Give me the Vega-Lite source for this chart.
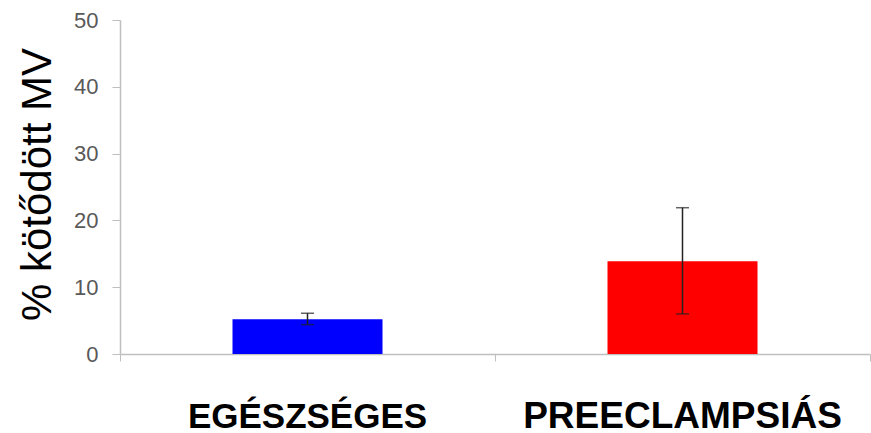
{
  "$schema": "https://vega.github.io/schema/vega-lite/v6.json",
  "width": 750,
  "height": 334,
  "autosize": {"type": "none"},
  "padding": {"left": 120, "top": 20, "right": 1, "bottom": 79},
  "background": "white",
  "config": {"view": {"stroke": null}},
  "data": {
    "values": [
      {"group": "EGÉSZSÉGES", "value": 5.2, "low": 4.4, "high": 6.1, "color": "#0000FF"},
      {"group": "PREECLAMPSIÁS", "value": 13.9, "low": 6.0, "high": 21.9, "color": "#FF0000"}
    ]
  },
  "resolve": {"axis": {"x": "independent"}},
  "layer": [
    {
      "mark": {"type": "bar", "width": {"band": 0.4}},
      "encoding": {
        "x": {
          "field": "group",
          "type": "nominal",
          "sort": null,
          "scale": {"paddingInner": 0, "paddingOuter": 0},
          "axis": {
            "orient": "bottom",
            "title": null,
            "labels": false,
            "tickBand": "extent",
            "tickSize": 7,
            "tickColor": "#BFBFBF",
            "domainColor": "#BFBFBF",
            "domainWidth": 1.5
          }
        },
        "y": {
          "field": "value",
          "type": "quantitative",
          "scale": {"domain": [0, 50]},
          "axis": {
            "title": "% kötődött MV",
            "titleFont": "Liberation Sans",
            "titleFontSize": 42,
            "titleFontWeight": "normal",
            "titleColor": "#000000",
            "titleAngle": -90,
            "titleBaseline": "alphabetic",
            "titleAlign": "center",
            "titleX": -70,
            "titleY": 164,
            "values": [0, 10, 20, 30, 40, 50],
            "grid": false,
            "labelFont": "Liberation Sans",
            "labelFontSize": 22,
            "labelColor": "#595959",
            "labelPadding": 14,
            "tickSize": 8,
            "tickColor": "#BFBFBF",
            "domainColor": "#BFBFBF",
            "domainWidth": 1.5
          }
        },
        "color": {"field": "color", "type": "nominal", "scale": null}
      }
    },
    {
      "mark": {"type": "rule", "color": "#222222", "strokeWidth": 1.5},
      "encoding": {
        "x": {
          "field": "group",
          "type": "nominal",
          "sort": null,
          "axis": {
            "orient": "bottom",
            "title": null,
            "domain": false,
            "ticks": false,
            "labelAngle": 0,
            "labelFont": "Liberation Sans",
            "labelFontWeight": "bold",
            "labelFontSize": {"condition": {"test": "datum.value === 'PREECLAMPSIÁS'", "value": 37}, "value": 35},
            "labelColor": "#000000",
            "labelBaseline": "alphabetic",
            "labelPadding": 73,
            "labelOverlap": false,
            "labelBound": false,
            "labelLimit": 0,
            "labelDx": 8
          }
        },
        "y": {"field": "low", "type": "quantitative"},
        "y2": {"field": "high"}
      }
    },
    {
      "mark": {"type": "tick", "color": "#222222", "size": 13, "thickness": 1.5, "orient": "horizontal"},
      "encoding": {
        "x": {"field": "group", "type": "nominal", "sort": null, "axis": null},
        "y": {"field": "low", "type": "quantitative"}
      }
    },
    {
      "mark": {"type": "tick", "color": "#222222", "size": 13, "thickness": 1.5, "orient": "horizontal"},
      "encoding": {
        "x": {"field": "group", "type": "nominal", "sort": null, "axis": null},
        "y": {"field": "high", "type": "quantitative"}
      }
    }
  ]
}
